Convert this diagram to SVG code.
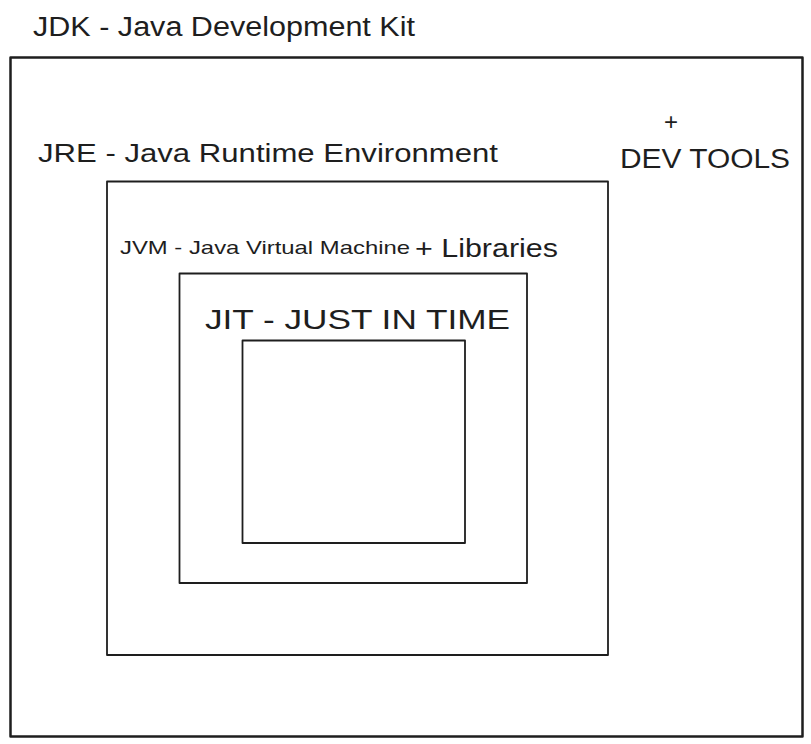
<svg xmlns="http://www.w3.org/2000/svg" width="811" height="744" viewBox="0 0 811 744">
<style>
.box{fill:none;stroke:#1e1e1e;stroke-linejoin:round}
.t{font-family:"Liberation Sans","DejaVu Sans",sans-serif;fill:#1e1e1e}
</style>
<rect width="811" height="744" fill="#ffffff"/>
<g id="jdk">
<rect class="box" x="10.5" y="57.5" width="792" height="679" stroke-width="2.5"/>
<text class="t" x="33" y="36" font-size="27" textLength="382" lengthAdjust="spacingAndGlyphs">JDK - Java Development Kit</text>
<text class="t" x="664" y="130" font-size="24">+</text>
<text class="t" x="620" y="168" font-size="27" textLength="170" lengthAdjust="spacingAndGlyphs">DEV TOOLS</text>
</g>
<g id="jre">
<rect class="box" x="107" y="181.5" width="501" height="473.5" stroke-width="1.8"/>
<text class="t" x="38" y="162" font-size="26" textLength="460" lengthAdjust="spacingAndGlyphs">JRE -  Java Runtime Environment</text>
<text class="t" x="415" y="257" font-size="26" textLength="143" lengthAdjust="spacingAndGlyphs">+ Libraries</text>
</g>
<g id="jvm">
<rect class="box" x="179.5" y="273.5" width="347.5" height="309.5" stroke-width="1.8"/>
<text class="t" x="120" y="254" font-size="19" textLength="290" lengthAdjust="spacingAndGlyphs">JVM - Java Virtual Machine</text>
</g>
<g id="jit">
<rect class="box" x="242.5" y="340.5" width="222.5" height="202.5" stroke-width="1.8"/>
<text class="t" x="205" y="329" font-size="27" textLength="305" lengthAdjust="spacingAndGlyphs">JIT - JUST IN TIME</text>
</g>
<g id="connectors"></g>
</svg>
